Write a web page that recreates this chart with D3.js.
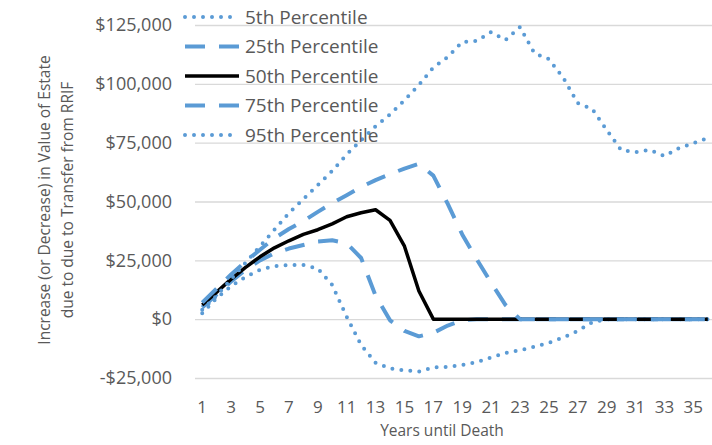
<!DOCTYPE html>
<html>
<head>
<meta charset="utf-8">
<script src="https://cdn.jsdelivr.net/npm/d3@7"></script>
<style>
    body { margin: 0; background: #fff; }
    text { font-family: "Open Sans", sans-serif; fill: #595959; }
</style>
</head>
<body>
<script>
var WIDTH = 712;
var HEIGHT = 445;

var years = [1, 2, 3, 4, 5, 6, 7, 8, 9, 10, 11, 12, 13, 14, 15, 16, 17, 18,
    19, 20, 21, 22, 23, 24, 25, 26, 27, 28, 29, 30, 31, 32, 33, 34, 35, 36];
var yearTicks = [1, 3, 5, 7, 9, 11, 13, 15, 17, 19, 21, 23, 25, 27, 29, 31, 33, 35];
var valueTicks = [-25000, 0, 25000, 50000, 75000, 100000, 125000];

var p5 = [2500, 9000, 14000, 18000, 21000, 22500, 23000, 23000, 21500, 14500, 1000, -11000,
    -18500, -21000, -21700, -22300, -20500, -20300, -19500, -18300, -16300, -14400, -13200, -11700,
    -10000, -7800, -5000, -1300, 0, 0, 0, 0, 0, 0, 0, 0];
var p25 = [5000, 10500, 16000, 21000, 25000, 28000, 30000, 31500, 33000, 33500, 32300, 26000,
    10000, -500, -5000, -7300, -5800, -2700, -500, 0, 0, 0, 0, 0,
    0, 0, 0, 0, 0, 0, 0, 0, 0, 0, 0, 0];
var p50 = [6000, 11500, 17000, 22000, 26500, 30300, 33300, 36000, 38000, 40500, 43500, 45200,
    46500, 42000, 31000, 12000, 0, 0, 0, 0, 0, 0, 0, 0,
    0, 0, 0, 0, 0, 0, 0, 0, 0, 0, 0, 0];
var p75 = [7000, 13000, 19000, 24500, 29500, 34400, 38300, 41700, 45600, 49300, 52700, 56200,
    59100, 61600, 64000, 66000, 61000, 49000, 36000, 25500, 15500, 6000, 0, 0,
    0, 0, 0, 0, 0, 0, 0, 0, 0, 0, 0, 0];
var p95 = [4000, 10000, 17000, 24000, 31000, 38000, 45000, 51000, 57000, 63000, 70000, 76000,
    82000, 87000, 93000, 99500, 107000, 111400, 117800, 118200, 122000, 118600, 124100, 113000,
    110500, 102500, 91800, 89300, 80400, 71900, 71000, 71900, 69300, 72700, 74800, 77000];

var seriesNames = ["5th Percentile", "25th Percentile", "50th Percentile", "75th Percentile", "95th Percentile"];
var seriesValues = [p5, p25, p50, p75, p95];

var BLUE = "#5b9bd5";
var styles = [
    {color: BLUE, width: 4, dash: "0,9", cap: "round"},
    {color: BLUE, width: 4, dash: "20,14", cap: "butt"},
    {color: "#000", width: 3.5, dash: null, cap: "butt"},
    {color: BLUE, width: 4, dash: "20,14", cap: "butt"},
    {color: BLUE, width: 4, dash: "0,9", cap: "round"}
];

var svg = d3.select("body")
    .append("svg")
    .attr("width", WIDTH)
    .attr("height", HEIGHT);

// plot area runs a little past the right edge, the picture is cropped there
var plotLeft = 195, plotRight = 715, plotTop = 25, plotBottom = 378;

var x = d3.scaleBand()
    .domain(years)
    .range([plotLeft, plotRight])
    .paddingInner(0);

var y = d3.scaleLinear()
    .domain([-25000, 125000])
    .range([plotBottom, plotTop]);

function cx(d) {
    return x(d) + x.bandwidth() / 2;
}

var money = d3.format("$,.0f");

var yAxis = svg.append("g")
    .attr("transform", "translate(" + plotLeft + ",0)")
    .call(d3.axisLeft(y)
        .tickValues(valueTicks)
        .tickSize(-(plotRight - plotLeft))
        .tickPadding(23)
        .tickFormat(function (v) { return v < 0 ? "-" + money(-v) : money(v); }));
yAxis.select(".domain").remove();
yAxis.selectAll(".tick line").attr("stroke", "#d9d9d9").attr("stroke-width", 1.3);
yAxis.selectAll(".tick text").style("font-size", "18px").attr("fill", "#595959");

var xAxis = svg.append("g")
    .attr("transform", "translate(0," + plotBottom + ")")
    .call(d3.axisBottom(x)
        .tickValues(yearTicks)
        .tickSize(0)
        .tickPadding(23));
xAxis.select(".domain").remove();
xAxis.selectAll(".tick text").style("font-size", "17px").attr("fill", "#595959");

var line = d3.line()
    .x(function (d, i) { return cx(years[i]); })
    .y(function (d) { return y(d); });

svg.append("g")
    .attr("class", "series")
    .selectAll("path")
    .data(seriesValues)
    .enter()
    .append("path")
    .attr("d", line)
    .attr("fill", "none")
    .attr("stroke", function (d, i) { return styles[i].color; })
    .attr("stroke-width", function (d, i) { return styles[i].width; })
    .attr("stroke-dasharray", function (d, i) { return styles[i].dash; })
    .attr("stroke-linecap", function (d, i) { return styles[i].cap; })
    .attr("stroke-linejoin", "round");

// legend sits over the top left of the plot
var legend = svg.append("g")
    .attr("class", "legend")
    .selectAll("g")
    .data(seriesNames)
    .enter()
    .append("g")
    .attr("transform", function (d, i) { return "translate(185," + (17 + i * 29.5) + ")"; });

legend.append("line")
    .attr("x1", 0)
    .attr("x2", 54)
    .attr("stroke", function (d, i) { return styles[i].color; })
    .attr("stroke-width", function (d, i) { return styles[i].width; })
    .attr("stroke-dasharray", function (d, i) { return styles[i].dash; })
    .attr("stroke-linecap", function (d, i) { return styles[i].cap; });

legend.append("text")
    .attr("x", 60)
    .attr("dy", "0.35em")
    .style("font-size", "19px")
    .text(function (d) { return d; });

svg.append("text")
    .attr("x", 442)
    .attr("y", 436)
    .attr("text-anchor", "middle")
    .style("font-size", "15.5px")
    .text("Years until Death");

var yTitle = svg.append("text")
    .attr("transform", "translate(45,200) rotate(-90)")
    .attr("text-anchor", "middle")
    .style("font-size", "15.5px");
yTitle.append("tspan")
    .attr("x", 0)
    .attr("dy", "0.35em")
    .text("Increase (or Decrease) in Value of Estate");
yTitle.append("tspan")
    .attr("x", 0)
    .attr("dy", "1.45em")
    .text("due to due to Transfer from RRIF");
</script>
</body>
</html>
